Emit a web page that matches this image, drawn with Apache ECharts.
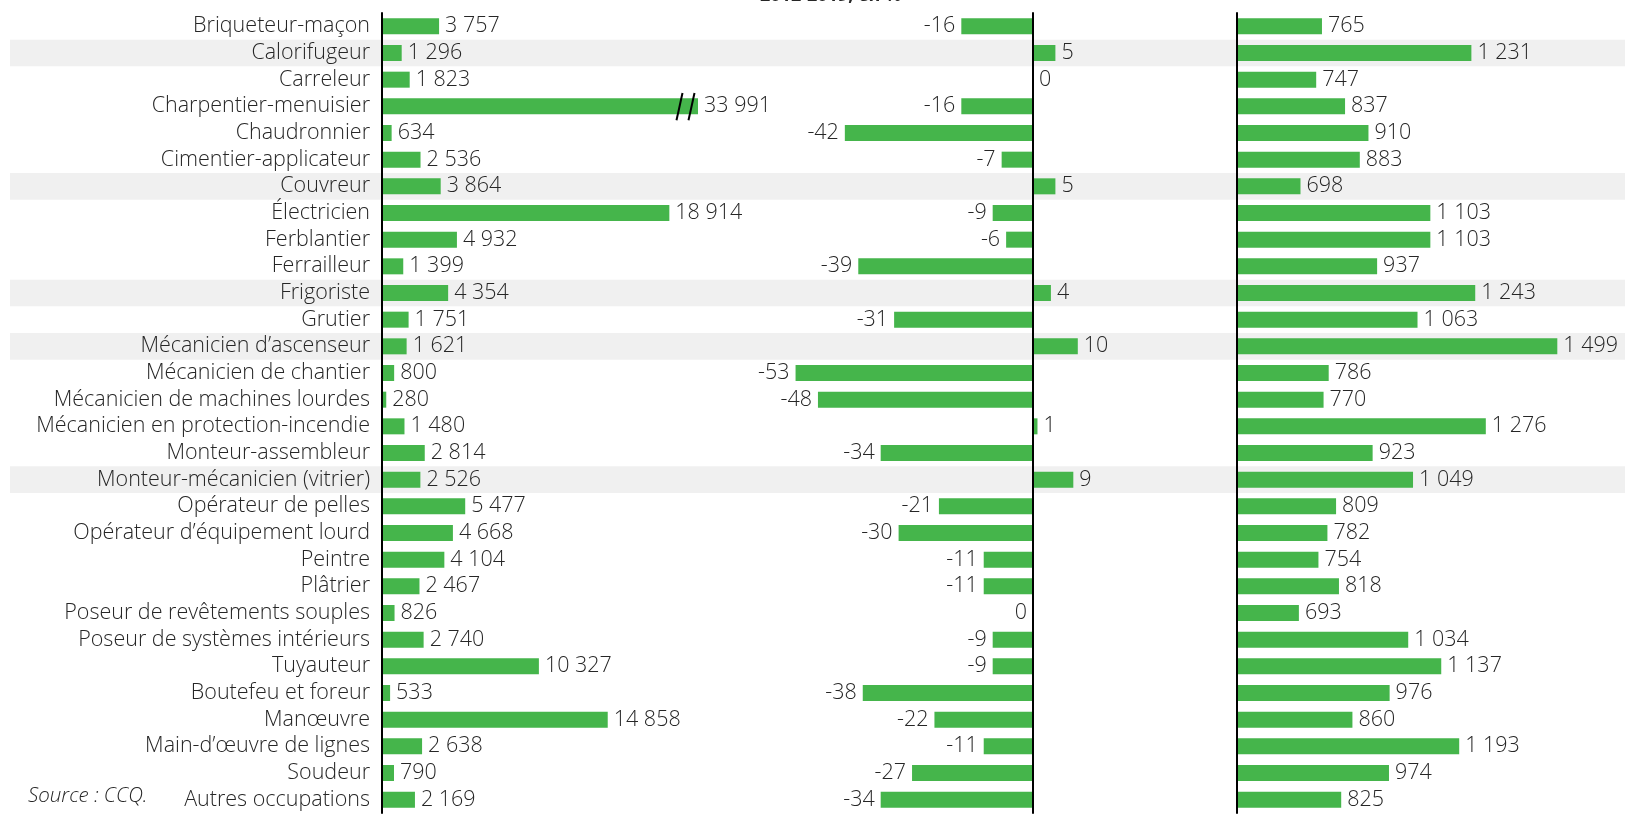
<!DOCTYPE html>
<html lang="fr">
<head>
<meta charset="utf-8">
<title>Occupations de la construction</title>
<script src="https://cdn.jsdelivr.net/npm/echarts@6/dist/echarts.min.js"></script>
<style>
  html, body { margin: 0; padding: 0; background: #ffffff; }
  #chart { width: 1625px; height: 814px; }
</style>
</head>
<body>
<div id="chart"></div>
<script>
// Occupations (top to bottom)
const occupations = [
  'Briqueteur-maçon', 'Calorifugeur', 'Carreleur', 'Charpentier-menuisier',
  'Chaudronnier', 'Cimentier-applicateur', 'Couvreur', 'Électricien',
  'Ferblantier', 'Ferrailleur', 'Frigoriste', 'Grutier',
  'Mécanicien d’ascenseur', 'Mécanicien de chantier', 'Mécanicien de machines lourdes',
  'Mécanicien en protection-incendie', 'Monteur-assembleur', 'Monteur-mécanicien (vitrier)',
  'Opérateur de pelles', 'Opérateur d’équipement lourd', 'Peintre', 'Plâtrier',
  'Poseur de revêtements souples', 'Poseur de systèmes intérieurs', 'Tuyauteur',
  'Boutefeu et foreur', 'Manœuvre', 'Main-d’œuvre de lignes', 'Soudeur', 'Autres occupations'
];

// Number of workers
const workers = [
  3757, 1296, 1823, 33991, 634, 2536, 3864, 18914, 4932, 1399,
  4354, 1751, 1621, 800, 280, 1480, 2814, 2526, 5477, 4668,
  4104, 2467, 826, 2740, 10327, 533, 14858, 2638, 790, 2169
];

// Variation 2012-2019, in %
const variation = [
  -16, 5, 0, -16, -42, -7, 5, -9, -6, -39,
  4, -31, 10, -53, -48, 1, -34, 9, -21, -30,
  -11, -11, -0, -9, -9, -38, -22, -11, -27, -34
];

// Hours worked per worker
const hours = [
  765, 1231, 747, 837, 910, 883, 698, 1103, 1103, 937,
  1243, 1063, 1499, 786, 770, 1276, 923, 1049, 809, 782,
  754, 818, 693, 1034, 1137, 976, 860, 1193, 974, 825
];

// Shaded rows
const shadedRows = [
  'Calorifugeur', 'Couvreur', 'Frigoriste', 'Mécanicien d’ascenseur', 'Monteur-mécanicien (vitrier)'
];

// Occupation whose bar is drawn with a scale break
const brokenRow = 'Charpentier-menuisier';

const headingText = '2012-2019, en %';
const sourceText = 'Source : CCQ.';

const GREEN = '#45b54b';
const TEXT = '#262626';
const FONT = '"Open Sans"';
const FONT_SIZE = 21.5;
const LEFT_MAX = 20800;   // left panel scale is cut here

function fmt(v) {
  const s = String(Math.abs(v)).replace(/\B(?=(\d{3})+(?!\d))/g, ' ');
  return (v < 0 ? '-' : '') + s;
}
function isNeg(v) { return v < 0 || Object.is(v, -0); }

function barData(values) {
  return values.map(v => ({
    value: v,
    label: { position: isNeg(v) ? 'left' : 'right' }
  }));
}

const labelStyle = {
  show: true,
  distance: 6,
  color: TEXT,
  fontFamily: FONT,
  fontWeight: 300,
  fontSize: FONT_SIZE,
  formatter: p => fmt(p.value)
};

const TOP = 13, HEIGHT = 800;

function catAxis(gridIndex, showLabels, lineShow) {
  return {
    type: 'category', gridIndex, data: occupations, inverse: true,
    z: 5,
    axisLine: { show: lineShow, onZero: true, lineStyle: { color: '#000', width: 2 } },
    axisTick: { show: false },
    axisLabel: showLabels ? {
      show: true, interval: 0, margin: 12, color: TEXT,
      fontFamily: FONT, fontWeight: 300, fontSize: FONT_SIZE
    } : { show: false },
    splitLine: { show: false }
  };
}
function valAxis(gridIndex, min, max) {
  return {
    type: 'value', gridIndex, min, max, show: false,
    splitLine: { show: false }
  };
}

const option = {
  animation: false,
  backgroundColor: '#ffffff',
  grid: [
    { left: 382, top: TOP, width: 316, height: HEIGHT },        // workers
    { left: 764.2, top: TOP, width: 358.4, height: HEIGHT },    // variation
    { left: 1237, top: TOP, width: 352.7, height: HEIGHT },     // hours
    { left: 10, top: TOP, right: 0, height: HEIGHT }            // row shading
  ],
  xAxis: [
    valAxis(0, 0, LEFT_MAX),
    valAxis(1, -60, 20),
    valAxis(2, 500, 1600),
    valAxis(3, 0, 1)
  ],
  yAxis: [
    catAxis(0, true, true),
    catAxis(1, false, true),
    catAxis(2, false, true),
    catAxis(3, false, false)
  ],
  graphic: [
    {
      type: 'text', left: 760, top: -13, z: 10,
      style: { text: headingText, fill: TEXT, font: 'bold 18px ' + FONT }
    },
    {
      type: 'text', left: 28, top: 786, z: 10,
      style: { text: sourceText, fill: TEXT, font: 'italic 300 20.5px ' + FONT }
    }
  ],
  series: [
    {
      type: 'bar', xAxisIndex: 3, yAxisIndex: 3, z: 0,
      barCategoryGap: '0%', silent: true,
      itemStyle: { color: '#f0f0f0' },
      data: occupations.map(o => shadedRows.includes(o) ? 1 : 0)
    },
    {
      type: 'bar', xAxisIndex: 0, yAxisIndex: 0, z: 2,
      barCategoryGap: '40%', clip: true,
      itemStyle: { color: GREEN },
      label: labelStyle,
      data: barData(workers)
    },
    {
      type: 'custom', xAxisIndex: 0, yAxisIndex: 0, z: 4, silent: true,
      data: [[LEFT_MAX, occupations.indexOf(brokenRow)]],
      renderItem: (params, api) => {
        const p = api.coord([api.value(0), api.value(1)]);
        const h = api.size([0, 1])[1];
        const dy1 = h * 0.52, dy2 = h * 0.5;
        const mk = (x0, x1) => ({
          type: 'line',
          shape: { x1: p[0] + x0, y1: p[1] + dy1, x2: p[0] + x1, y2: p[1] - dy2 },
          style: { stroke: '#000', lineWidth: 2 }
        });
        return { type: 'group', children: [mk(-21.5, -15.5), mk(-9.5, -3.5)] };
      }
    },
    {
      type: 'bar', xAxisIndex: 1, yAxisIndex: 1, z: 2,
      barCategoryGap: '40%',
      itemStyle: { color: GREEN },
      label: labelStyle,
      data: barData(variation)
    },
    {
      type: 'bar', xAxisIndex: 2, yAxisIndex: 2, z: 2,
      barCategoryGap: '40%',
      itemStyle: { color: GREEN },
      label: labelStyle,
      data: barData(hours)
    }
  ]
};

const chart = echarts.init(document.getElementById('chart'), null, { renderer: 'canvas' });
chart.setOption(option);
</script>
</body>
</html>
